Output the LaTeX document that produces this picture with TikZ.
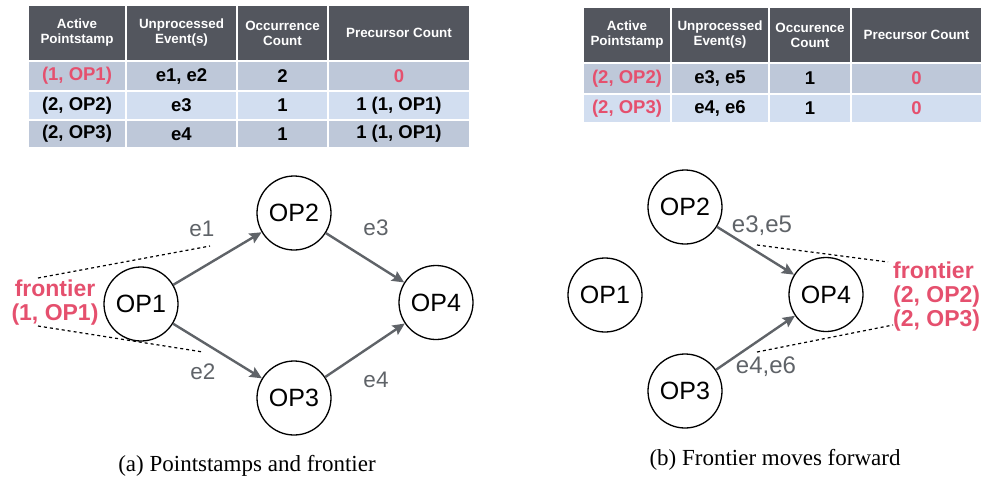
\documentclass[tikz,border=0pt]{standalone}
\usepackage{fontspec}
\setmainfont{Liberation Serif}
\newfontfamily\arial{Liberation Sans}
\usetikzlibrary{arrows.meta}
\definecolor{hdr}{HTML}{53565E}
\definecolor{rowA}{HTML}{BEC8D9}
\definecolor{rowB}{HTML}{D2DEF0}
\definecolor{fred}{HTML}{E5506E}
\definecolor{egray}{HTML}{5F6368}
\tikzset{
  cell/.style={draw=white, line width=1.5pt, inner sep=0pt, align=center,
    font=\arial\bfseries\fontsize{18.5}{20}\selectfont},
  hcell/.style={cell, fill=hdr, text=white,
    font=\arial\bfseries\fontsize{13.4}{15}\selectfont},
  acell/.style={cell, fill=rowA},
  bcell/.style={cell, fill=rowB},
  opnode/.style={circle, draw=black, line width=1.3pt, minimum size=74pt, inner sep=0pt,
    font=\arial\fontsize{25}{28}\selectfont},
  flow/.style={draw=egray, line width=2.4pt, -{Stealth[length=12pt,width=11pt,inset=2pt]}},
  elabel/.style={text=egray, font=\arial\fontsize{22.5}{24}\selectfont, inner sep=0pt},
  elabelb/.style={text=egray, font=\arial\fontsize{24}{26}\selectfont, inner sep=0pt},
  front/.style={text=fred, font=\arial\bfseries\fontsize{23}{24}\selectfont, inner sep=0pt},
  frontline/.style={draw=black, line width=1.2pt, dash pattern=on 3pt off 3pt},
  captext/.style={font=\fontsize{23}{25}\selectfont, inner sep=0pt}
}
\begin{document}
\begin{tikzpicture}[x=1pt, y=-1pt]
\useasboundingbox (0,0) rectangle (982,483);
% ---------- Table 1 ----------
\node[hcell, minimum width=98pt,  minimum height=56pt] (t1h1) at (77,33)    {Active\\Pointstamp};
\node[hcell, minimum width=111pt, minimum height=56pt] (t1h2) at (181.5,33) {Unprocessed\\Event(s)};
\node[hcell, minimum width=91pt,  minimum height=56pt] (t1h3) at (282.5,33) {Occurrence\\Count};
\node[hcell, minimum width=142pt, minimum height=56pt] (t1h4) at (399,33)   {Precursor Count};
\node[acell, minimum width=98pt,  minimum height=30pt, text=fred] (t1a1) at (77,76) {(1, OP1)};
\node[acell, minimum width=111pt, minimum height=30pt] (t1a2) at (181.5,76) {e1, e2};
\node[acell, minimum width=91pt,  minimum height=30pt] (t1a3) at (282.5,76) {2};
\node[acell, minimum width=142pt, minimum height=30pt, text=fred] (t1a4) at (399,76) {0};
\node[bcell, minimum width=98pt,  minimum height=29pt] (t1b1) at (77,105.5) {(2, OP2)};
\node[bcell, minimum width=111pt, minimum height=29pt] (t1b2) at (181.5,105.5) {e3};
\node[bcell, minimum width=91pt,  minimum height=29pt] (t1b3) at (282.5,105.5) {1};
\node[bcell, minimum width=142pt, minimum height=29pt] (t1b4) at (399,105.5) {1 (1, OP1)};
\node[acell, minimum width=98pt,  minimum height=28pt] (t1c1) at (77,134) {(2, OP3)};
\node[acell, minimum width=111pt, minimum height=28pt] (t1c2) at (181.5,134) {e4};
\node[acell, minimum width=91pt,  minimum height=28pt] (t1c3) at (282.5,134) {1};
\node[acell, minimum width=142pt, minimum height=28pt] (t1c4) at (399,134) {1 (1, OP1)};
% ---------- Table 2 ----------
\node[hcell, minimum width=88pt,  minimum height=56pt] (t2h1) at (627,35)   {Active\\Pointstamp};
\node[hcell, minimum width=98pt,  minimum height=56pt] (t2h2) at (720,35)   {Unprocessed\\Event(s)};
\node[hcell, minimum width=82pt,  minimum height=56pt] (t2h3) at (810,35)   {Occurence\\Count};
\node[hcell, minimum width=131pt, minimum height=56pt] (t2h4) at (916.5,35) {Precursor Count};
\node[acell, minimum width=88pt,  minimum height=31pt, text=fred] (t2a1) at (627,78.5) {(2, OP2)};
\node[acell, minimum width=98pt,  minimum height=31pt] (t2a2) at (720,78.5) {e3, e5};
\node[acell, minimum width=82pt,  minimum height=31pt] (t2a3) at (810,78.5) {1};
\node[acell, minimum width=131pt, minimum height=31pt, text=fred] (t2a4) at (916.5,78.5) {0};
\node[bcell, minimum width=88pt,  minimum height=29pt, text=fred] (t2b1) at (627,108.5) {(2, OP3)};
\node[bcell, minimum width=98pt,  minimum height=29pt] (t2b2) at (720,108.5) {e4, e6};
\node[bcell, minimum width=82pt,  minimum height=29pt] (t2b3) at (810,108.5) {1};
\node[bcell, minimum width=131pt, minimum height=29pt, text=fred] (t2b4) at (916.5,108.5) {0};
% ---------- Graph (a) ----------
\node[opnode] (a1) at (141,304) {OP1};
\node[opnode] (a2) at (294,213) {OP2};
\node[opnode] (a3) at (294,398) {OP3};
\node[opnode] (a4) at (436,302.5) {OP4};
\draw[flow] (a1) -- (a2);
\draw[flow] (a1) -- (a3);
\draw[flow] (a2) -- (a4);
\draw[flow] (a3) -- (a4);
\node[elabel] (le1) at (202,229) {e1};
\node[elabel] (le2) at (203,372) {e2};
\node[elabel] (le3) at (376,228) {e3};
\node[elabel] (le4) at (376,380) {e4};
\node[front, align=center] (fa) at (55,303) {frontier\\(1, OP1)};
\coordinate (fau1) at (38,278);
\coordinate (fau2) at (210,246);
\coordinate (fal1) at (38,326);
\coordinate (fal2) at (203,352);
\draw[frontline] (fau1) -- (fau2);
\draw[frontline] (fal1) -- (fal2);
% ---------- Graph (b) ----------
\node[opnode] (b1) at (605,295) {OP1};
\node[opnode] (b2) at (685,207) {OP2};
\node[opnode] (b3) at (685,391) {OP3};
\node[opnode] (b4) at (826,294.5) {OP4};
\draw[flow] (b2) -- (b4);
\draw[flow] (b3) -- (b4);
\node[elabelb] (le35) at (762,226) {e3,e5};
\node[elabelb] (le46) at (766,367) {e4,e6};
\node[front, align=left, anchor=west] (fb) at (893,296.5) {frontier\\(2, OP2)\\(2, OP3)};
\coordinate (fbu1) at (757,245);
\coordinate (fbu2) at (888,262);
\coordinate (fbl1) at (757,352);
\coordinate (fbl2) at (893,325);
\draw[frontline] (fbu1) -- (fbu2);
\draw[frontline] (fbl1) -- (fbl2);
% ---------- Captions ----------
\node[captext] (capa) at (247,466) {(a) Pointstamps and frontier};
\node[captext] (capb) at (775,460) {(b) Frontier moves forward};
\end{tikzpicture}
\end{document}
